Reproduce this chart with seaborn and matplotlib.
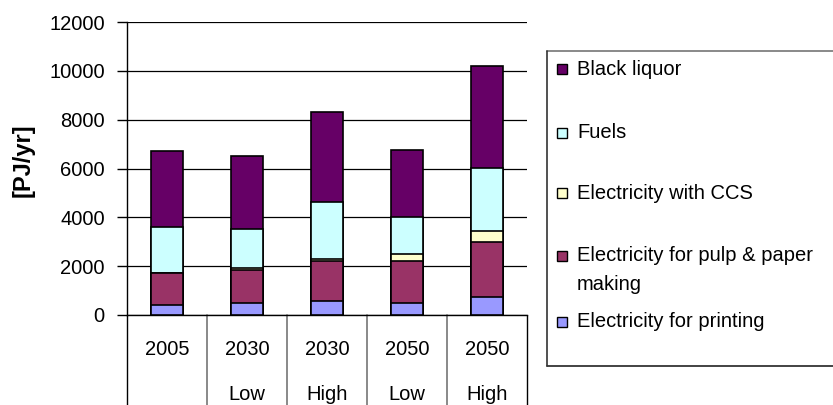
import matplotlib
matplotlib.use("Agg")
import matplotlib.pyplot as plt
from matplotlib.patches import Rectangle
from matplotlib.lines import Line2D
import numpy as np
import pandas as pd
import seaborn as sns

# Scenario columns (two-row category labels)
years = ["2005", "2030", "2030", "2050", "2050"]
variants = ["", "Low", "High", "Low", "High"]

# Energy use per component [PJ/yr], stacked bottom to top
printing = [430, 500, 570, 500, 750]
pulp_paper = [1270, 1350, 1630, 1700, 2250]
ccs = [0, 80, 100, 300, 450]
fuels = [1900, 1600, 2330, 1500, 2580]
black_liquor = [3100, 2970, 3670, 2750, 4170]

series_names = ["Electricity for printing", "Electricity for pulp & paper\nmaking",
                "Electricity with CCS", "Fuels", "Black liquor"]
series_colors = ["#9999FF", "#993366", "#FFFFCC", "#CCFFFF", "#660066"]
y_ticks = [0, 2000, 4000, 6000, 8000, 10000, 12000]

sns.set_theme(style="white")
plt.rcParams["font.family"] = ["Liberation Sans", "DejaVu Sans"]
FS = 14.5

W, H = 833, 405
fig = plt.figure(figsize=(W / 100, H / 100), dpi=100)
ax_l, ax_r, ax_t, ax_b = 127, 527, 22, 315
ax = fig.add_axes([ax_l / W, 1 - ax_b / H, (ax_r - ax_l) / W, (ax_b - ax_t) / H])

keys = [f"{y} {v}".strip() for y, v in zip(years, variants)]
stack = np.cumsum(np.array([printing, pulp_paper, ccs, fuels, black_liquor]), axis=0)
df = pd.DataFrame({"scenario": keys})

# Draw cumulative totals from the top layer down so each layer shows its own slice
for level in range(len(series_names) - 1, -1, -1):
    df["value"] = stack[level]
    sns.barplot(data=df, x="scenario", y="value", order=keys, color=series_colors[level],
                saturation=1, width=0.4, edgecolor="black", linewidth=1.2,
                errorbar=None, ax=ax, zorder=3)

ax.set_xlim(-0.5, len(keys) - 0.5)
ax.set_ylim(0, 12000)
ax.set_yticks(y_ticks)
ax.set_yticklabels([str(t) for t in y_ticks], fontsize=FS, color="black")
ax.set_xticks(range(len(keys)))
ax.set_xticklabels(years, fontsize=FS, color="black")
ax.set_xlabel("")
ax.set_ylabel("")
ax.tick_params(axis="y", direction="out", length=7, width=1, color="black",
               pad=9, left=True)
ax.tick_params(axis="x", length=0, pad=18)

ax.yaxis.grid(True, color="black", linewidth=0.9, zorder=0)
ax.xaxis.grid(False)
for side in ["top", "right"]:
    ax.spines[side].set_visible(False)
ax.spines["left"].set_color("black")
ax.spines["bottom"].set_color("black")
ax.spines["left"].set_linewidth(1)
ax.spines["bottom"].set_linewidth(1)
ax.set_axisbelow(True)

# Category table below the axis: second label row and column dividers
trans = ax.get_xaxis_transform()
ax_h = ax_b - ax_t
for i, v in enumerate(variants):
    if v:
        ax.text(i, -79 / ax_h, v, transform=trans, ha="center", va="center",
                fontsize=FS, color="black")
n = len(keys)
for i in range(n + 1):
    edge = i == 0 or i == n
    ax.plot([i - 0.5, i - 0.5], [0, -0.35], transform=trans, clip_on=False,
            color="black" if edge else "#808080", linewidth=1.0 if edge else 1.3)

# Y axis title
fig.text(23 / W, 1 - 160 / H, "[PJ/yr]", rotation=90, ha="center", va="center",
         fontsize=17, fontweight="bold", color="black")

# Legend box (open on the right, running past the figure edge)
def fx(px):
    return px / W


def fy(py):
    return 1 - py / H


box_l, box_t, box_b = 547, 51, 366
fig.lines.append(Line2D([fx(box_l), 1.2], [fy(box_t), fy(box_t)], transform=fig.transFigure,
                        color="#808080", linewidth=1.3))
fig.lines.append(Line2D([fx(box_l), 1.2], [fy(box_b), fy(box_b)], transform=fig.transFigure,
                        color="#222222", linewidth=1.2))
fig.lines.append(Line2D([fx(box_l), fx(box_l)], [fy(box_t), fy(box_b)], transform=fig.transFigure,
                        color="#333333", linewidth=1.2))

entry_y = {4: 69.3, 3: 132.7, 2: 193.3, 1: 256.0, 0: 321.7}
second_line_gap = 28.3
for idx in range(len(series_names) - 1, -1, -1):
    cy = entry_y[idx]
    fig.patches.append(Rectangle((fx(557), fy(cy + 5)), fx(567) - fx(557), fy(cy - 5) - fy(cy + 5),
                                 transform=fig.transFigure, facecolor=series_colors[idx],
                                 edgecolor="black", linewidth=1.0, zorder=2))
    nlines = series_names[idx].count("\n") + 1
    ty = cy + (nlines - 1) * second_line_gap / 2
    fig.text(fx(577), fy(ty), series_names[idx], ha="left", va="center",
             fontsize=FS, color="black", linespacing=1.65, zorder=3)

fig.savefig("out.png", dpi=100, facecolor="white")
